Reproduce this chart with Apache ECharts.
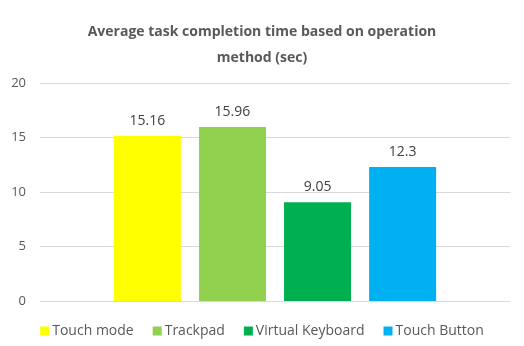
<!DOCTYPE html>
<html><head><meta charset="utf-8">
<script src="https://cdn.jsdelivr.net/npm/echarts@6/dist/echarts.min.js"></script>
<style>html,body{margin:0;padding:0;background:#fff}#c{width:524px;height:346px}</style>
</head><body><div id="c"></div>
<script>
const categories = [''];
const seriesNames = ['Touch mode', 'Trackpad', 'Virtual Keyboard', 'Touch Button'];
const values = [15.16, 15.96, 9.05, 12.3];
const colors = ['#FFFF00', '#92D050', '#00B050', '#00B0F0'];
const titleText = 'Average task completion time based on operation\nmethod (sec)';
const yTicks = { min: 0, max: 20, interval: 5 };

const font = '"Open Sans", "Noto Sans", sans-serif';
const chart = echarts.init(document.getElementById('c'), null, { renderer: 'canvas' });
chart.setOption({
  animation: false,
  title: {
    text: titleText, left: 'center', top: 14,
    textStyle: { fontFamily: font, fontSize: 14, fontWeight: 'bold', color: '#595959', lineHeight: 26 }
  },
  legend: {
    data: seriesNames, bottom: 3, left: 'center', itemWidth: 9, itemHeight: 9, itemGap: 19,
    icon: 'rect',
    textStyle: { fontFamily: font, fontSize: 14, color: '#595959', padding: [0, 0, 0, -2] }
  },
  grid: { left: 40, right: 14, top: 83, bottom: 45 },
  xAxis: {
    type: 'category', data: categories,
    axisLine: { lineStyle: { color: '#d9d9d9' } }, axisTick: { show: false }, axisLabel: { show: false }
  },
  yAxis: {
    type: 'value', min: yTicks.min, max: yTicks.max, interval: yTicks.interval,
    axisLine: { show: false }, axisTick: { show: false },
    axisLabel: { fontFamily: font, fontSize: 13, color: '#595959', margin: 14 },
    splitLine: { lineStyle: { color: '#d9d9d9', width: 1 } }
  },
  series: seriesNames.map((n, i) => ({
    name: n, type: 'bar', data: [values[i]], barWidth: 67, barGap: '27%',
    itemStyle: { color: colors[i] },
    label: { show: true, position: 'top', distance: 8, fontFamily: font, fontSize: 14, color: '#404040' }
  }))
});
</script></body></html>
